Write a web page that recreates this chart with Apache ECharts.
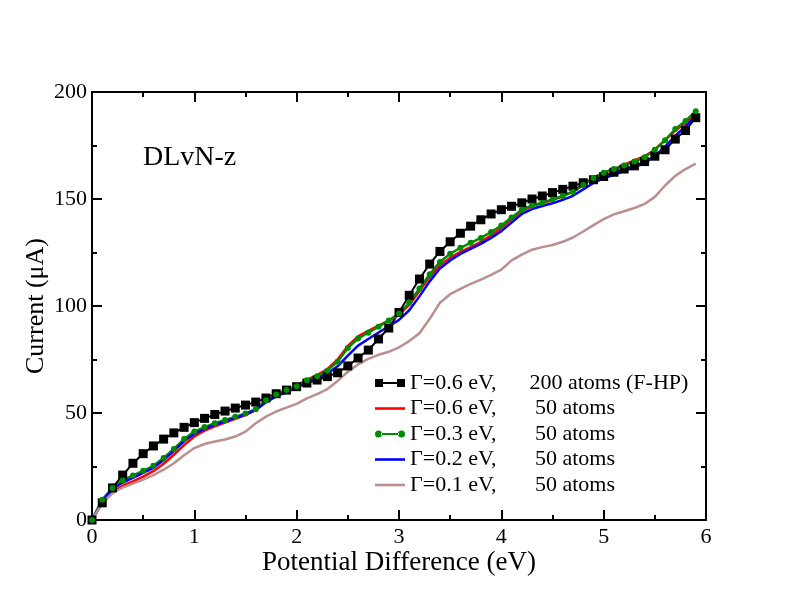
<!DOCTYPE html>
<html>
<head>
<meta charset="utf-8">
<script src="https://cdn.jsdelivr.net/npm/echarts@6/dist/echarts.min.js"></script>
<style>
  html, body { margin: 0; padding: 0; background: #fff; }
  #chart { width: 792px; height: 612px; }
</style>
</head>
<body>
<div id="chart"></div>
<script>
// bias voltage (eV), same grid for every set
const volts = [0, 0.1, 0.2, 0.3, 0.4, 0.5, 0.6, 0.7, 0.8, 0.9,
  1.0, 1.1, 1.2, 1.3, 1.4, 1.5, 1.6, 1.7, 1.8, 1.9,
  2.0, 2.1, 2.2, 2.3, 2.4, 2.5, 2.6, 2.7, 2.8, 2.9,
  3.0, 3.1, 3.2, 3.3, 3.4, 3.5, 3.6, 3.7, 3.8, 3.9,
  4.0, 4.1, 4.2, 4.3, 4.4, 4.5, 4.6, 4.7, 4.8, 4.9,
  5.0, 5.1, 5.2, 5.3, 5.4, 5.5, 5.6, 5.7, 5.8, 5.9];

const fhp200 = [0, 8, 15, 21, 26.5, 31, 34.6, 37.8, 40.7, 43.3,
  45.5, 47.5, 49.3, 50.9, 52.3, 53.7, 55.1, 57, 59, 60.7,
  62.3, 64, 65.4, 67, 68.8, 72, 75.7, 79.4, 84.6, 89.7,
  97, 105, 112.6, 119.6, 125.5, 130, 134, 137.3, 140.3, 143,
  145, 146.6, 148.2, 150, 151.4, 153, 154.5, 156, 157.6, 159,
  160.5, 162.5, 164, 165.5, 167.5, 170, 173, 178, 182, 188];

const g06 = [0, 8, 13, 16, 18, 20.3, 22.8, 26.3, 30.5, 35,
  39, 41.8, 43.8, 45.5, 47.3, 49, 51.5, 55.6, 58.5, 60.8,
  62.7, 65.6, 67.7, 70.5, 75, 81.3, 85.8, 88.4, 90.8, 93.2,
  96, 100.5, 107, 113.5, 119, 122.6, 125.3, 127.5, 130, 133,
  136.5, 140.5, 144.5, 146.7, 148, 149.5, 151.3, 153.6, 156.8, 160,
  162.2, 164, 166, 168, 170, 173, 177.5, 182, 185.5, 189.5];

const g03 = [0, 9.5, 15, 18.5, 20.8, 23, 25.3, 29, 33.2, 37.8,
  41.3, 43.4, 45.2, 46.7, 48.2, 49.8, 51.8, 56, 58.7, 60.7,
  62.5, 65.3, 67.2, 69.8, 74, 80.4, 84.8, 87.5, 90.3, 93.2,
  96.5, 101.5, 108.2, 114.8, 120.6, 124.4, 127.2, 129.5, 131.8, 134.6,
  137.6, 141.4, 145, 147, 148.3, 149.8, 151.4, 153.3, 156.5, 159.8,
  162.3, 164, 165.7, 167.5, 169.5, 173, 177.5, 182.7, 186.5, 191];

const g02 = [0, 9, 14.5, 17.5, 19.7, 22, 24.4, 28, 32.3, 36.8,
  40.3, 42.6, 44.5, 46.1, 47.7, 49.4, 51.4, 55, 57.8, 59.8,
  61.7, 64.4, 66.2, 68.4, 71.8, 76.8, 81.5, 84.6, 87.6, 90.5,
  93.5, 98, 104.5, 111.5, 117.5, 121.3, 124.3, 126.7, 129, 131.8,
  135, 139, 143, 145.3, 146.7, 148, 149.6, 151.5, 154.5, 157.5,
  159.7, 161.3, 163, 164.8, 166.8, 170, 174.5, 179.5, 184, 188.5];

const g01 = [0, 8, 12.5, 15.2, 17, 18.9, 21, 23.5, 26.5, 30.3,
  33.6, 35.5, 36.7, 37.6, 39, 41.3, 45.2, 48.3, 50.7, 52.5,
  54.3, 56.8, 58.8, 61.2, 65, 69.3, 72.7, 75.3, 77.2, 78.6,
  80.7, 83.6, 87.3, 94, 101.5, 105.5, 108, 110.3, 112.3, 114.5,
  117, 121.3, 124, 126.3, 127.5, 128.5, 130, 132, 134.8, 137.8,
  140.6, 142.8, 144.3, 145.8, 147.7, 151, 156.3, 160.8, 164, 166.5];

const names = [
  'Γ=0.6 eV,      200 atoms (F-HP)',
  'Γ=0.6 eV,       50 atoms',
  'Γ=0.3 eV,       50 atoms',
  'Γ=0.2 eV,       50 atoms',
  'Γ=0.1 eV,       50 atoms'
];

const serif = '"Liberation Serif", "Times New Roman", serif';

// legend glyphs: marker - line - marker, or a plain line
const iconSquares = 'path://M0,0H8V8H0Z M8,3H22V5H8Z M22,0H30V8H22Z';
const iconDots = 'path://M0,3.5a3.5,3.5 0 1,0 7,0a3.5,3.5 0 1,0 -7,0Z M6,2.5H24V4.5H6Z M23,3.5a3.5,3.5 0 1,0 7,0a3.5,3.5 0 1,0 -7,0Z';
const iconLine = 'path://M0,0H30V2.6H0Z';

function pairs(ys) {
  return volts.map((v, i) => [v, ys[i]]);
}

const chart = echarts.init(document.getElementById('chart'));

const frameAxis = {
  axisLine: { show: true, onZero: false, lineStyle: { color: '#000', width: 2 } },
  axisTick: { show: true, inside: true, length: 10, lineStyle: { color: '#000', width: 2 } },
  minorTick: { show: true, splitNumber: 2, length: 5, lineStyle: { color: '#000', width: 2 } },
  splitLine: { show: false }
};

chart.setOption({
  animation: false,
  backgroundColor: '#fff',
  textStyle: { fontFamily: serif },
  grid: { left: 92, right: 86, top: 92, bottom: 92 },
  title: {
    text: 'DLvN-z',
    left: 143, top: 144, padding: 0,
    textStyle: { fontFamily: serif, fontSize: 28, fontWeight: 'normal', color: '#000' }
  },
  legend: {
    orient: 'vertical',
    left: 375, top: 372, padding: 0,
    itemWidth: 30, itemHeight: 14, itemGap: 3.5,
    textStyle: { fontFamily: serif, fontSize: 22, color: '#000' },
    data: [
      { name: names[0], icon: iconSquares },
      { name: names[1], icon: iconLine },
      { name: names[2], icon: iconDots },
      { name: names[3], icon: iconLine },
      { name: names[4], icon: iconLine }
    ]
  },
  xAxis: [
    Object.assign({
      type: 'value', min: 0, max: 6, interval: 1, position: 'bottom',
      name: 'Potential Difference (eV)', nameLocation: 'middle', nameGap: 29,
      nameMoveOverlap: false,
      nameTextStyle: { fontFamily: serif, fontSize: 27, color: '#000' },
      axisLabel: { fontFamily: serif, fontSize: 22, color: '#000', margin: 6 }
    }, frameAxis),
    Object.assign({
      type: 'value', min: 0, max: 6, interval: 1, position: 'top',
      axisLabel: { show: false }
    }, frameAxis)
  ],
  yAxis: [
    Object.assign({
      type: 'value', min: 0, max: 200, interval: 50, position: 'left',
      name: 'Current (μA)', nameLocation: 'middle', nameGap: 43,
      nameMoveOverlap: false,
      nameTextStyle: { fontFamily: serif, fontSize: 26, color: '#000' },
      axisLabel: { fontFamily: serif, fontSize: 22, color: '#000', margin: 5 }
    }, frameAxis),
    Object.assign({
      type: 'value', min: 0, max: 200, interval: 50, position: 'right',
      axisLabel: { show: false }
    }, frameAxis)
  ],
  series: [
    {
      name: names[0], type: 'line', data: pairs(fhp200),
      symbol: 'rect', symbolSize: 9, showSymbol: true,
      lineStyle: { color: '#000', width: 2 },
      itemStyle: { color: '#000' }
    },
    {
      name: names[1], type: 'line', data: pairs(g06), showSymbol: false, symbol: 'none',
      lineStyle: { color: '#ff0000', width: 2.5 },
      itemStyle: { color: '#ff0000' }
    },
    {
      name: names[2], type: 'line', data: pairs(g03),
      symbol: 'circle', symbolSize: 6, showSymbol: true,
      lineStyle: { color: '#008c00', width: 2.5 },
      itemStyle: { color: '#008c00' }
    },
    {
      name: names[3], type: 'line', data: pairs(g02), showSymbol: false, symbol: 'none',
      lineStyle: { color: '#0000ff', width: 2.5 },
      itemStyle: { color: '#0000ff' }
    },
    {
      name: names[4], type: 'line', data: pairs(g01), showSymbol: false, symbol: 'none',
      lineStyle: { color: '#bc8f8f', width: 2.5 },
      itemStyle: { color: '#bc8f8f' }
    }
  ]
});

window.addEventListener('resize', function () {
  chart.resize();
});
</script>
</body>
</html>
